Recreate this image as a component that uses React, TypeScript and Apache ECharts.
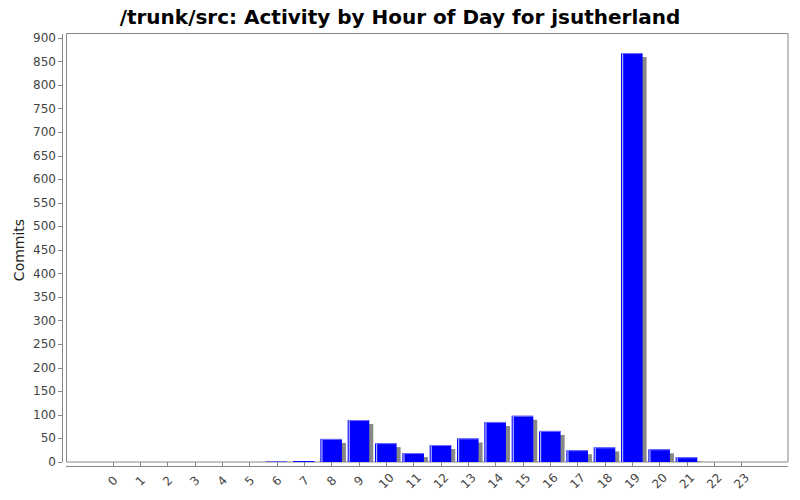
import React, { useEffect, useRef } from "react";
import * as echarts from "echarts";

const hours = ["0","1","2","3","4","5","6","7","8","9","10","11","12","13","14","15","16","17","18","19","20","21","22","23"];
const commits = [0, 0, 0, 0, 0, 0, 1, 2, 49, 89, 40, 19, 36, 50, 85, 98, 66, 25, 31, 868, 27, 10, 0, 0];
const yTicks = { min: 0, max: 900, interval: 50 };

const FONT = "DejaVu Sans";

export default function App() {
  const ref = useRef<HTMLDivElement>(null);
  useEffect(() => {
    document.body.style.margin = "0";
    const chart = echarts.init(ref.current!, null, { renderer: "svg" });
    const option = {
      animation: false,
      backgroundColor: "#ffffff",
      title: {
        text: "/trunk/src: Activity by Hour of Day for jsutherland",
        left: "center",
        top: 2,
        textStyle: { fontFamily: FONT, fontSize: 20, fontWeight: "bold", color: "#000" },
      },
      grid: { left: 99.3, top: 38, width: 656, height: 424 },
      xAxis: {
        type: "category",
        data: hours,
        offset: 4,
        axisLine: { show: false },
        axisTick: { show: true, alignWithLabel: true, length: 4, lineStyle: { color: "#888" } },
        axisLabel: {
          rotate: 45,
          align: "center",
          verticalAlign: "middle",
          margin: 15,
          fontFamily: FONT,
          fontSize: 12,
          color: "#444",
          interval: 0,
        },
        splitLine: { show: false },
      },
      yAxis: {
        type: "value",
        min: yTicks.min,
        max: yTicks.max,
        interval: yTicks.interval,
        offset: 37.3,
        name: "Commits",
        nameLocation: "middle",
        nameRotate: 90,
        nameGap: 36.5,
        nameMoveOverlap: false,
        nameTextStyle: { fontFamily: FONT, fontSize: 14, color: "#222" },
        axisLine: { show: false },
        axisTick: { show: true, length: 4, lineStyle: { color: "#888" } },
        axisLabel: { margin: 6, fontFamily: FONT, fontSize: 12, color: "#444" },
        splitLine: { show: false },
      },
      graphic: [
        { type: "rect", shape: { x: 66.5, y: 33.5, width: 721.5, height: 428.5 }, style: { fill: "none", stroke: "#888", lineWidth: 1 }, z: 1 },
        { type: "line", shape: { x1: 62.5, y1: 34, x2: 62.5, y2: 462 }, style: { stroke: "#888", lineWidth: 1 } },
        { type: "line", shape: { x1: 66, y1: 466.5, x2: 788, y2: 466.5 }, style: { stroke: "#888", lineWidth: 1 } },
      ],
      series: [
        {
          type: "custom",
          data: commits.map((v, i) => [i, v]),
          encode: { x: 0, y: 1 },
          z: 5,
          renderItem: (params: any, api: any) => {
            const idx = api.value(0);
            const v = api.value(1);
            if (!v) return { type: "group", children: [] };
            const top = api.coord([idx, v]);
            const base = api.coord([idx, 0]);
            const band = api.size([1, 0])[0];
            const w = band * 0.79;
            const x = top[0] - w / 2 - 0.5;
            const h = base[1] - top[1];
            const children: any[] = [];
            if (h > 4) {
              children.push({ type: "rect", shape: { x: x + 4, y: top[1] + 4, width: w, height: h - 4 }, style: { fill: "#888888" } });
            }
            children.push({ type: "rect", shape: { x, y: top[1], width: w, height: h }, style: { fill: "#0000ff" } });
            if (h > 2) {
              children.push({ type: "rect", shape: { x: x + 1, y: top[1], width: 1.2, height: h }, style: { fill: "#b0b0ff" } });
              children.push({ type: "rect", shape: { x, y: top[1], width: w, height: 1 }, style: { fill: "#7070ff" } });
            }
            return { type: "group", children };
          },
        },
      ],
    };
    chart.setOption(option as any);
    return () => chart.dispose();
  }, []);
  return <div ref={ref} style={{ width: 800, height: 500 }} />;
}
